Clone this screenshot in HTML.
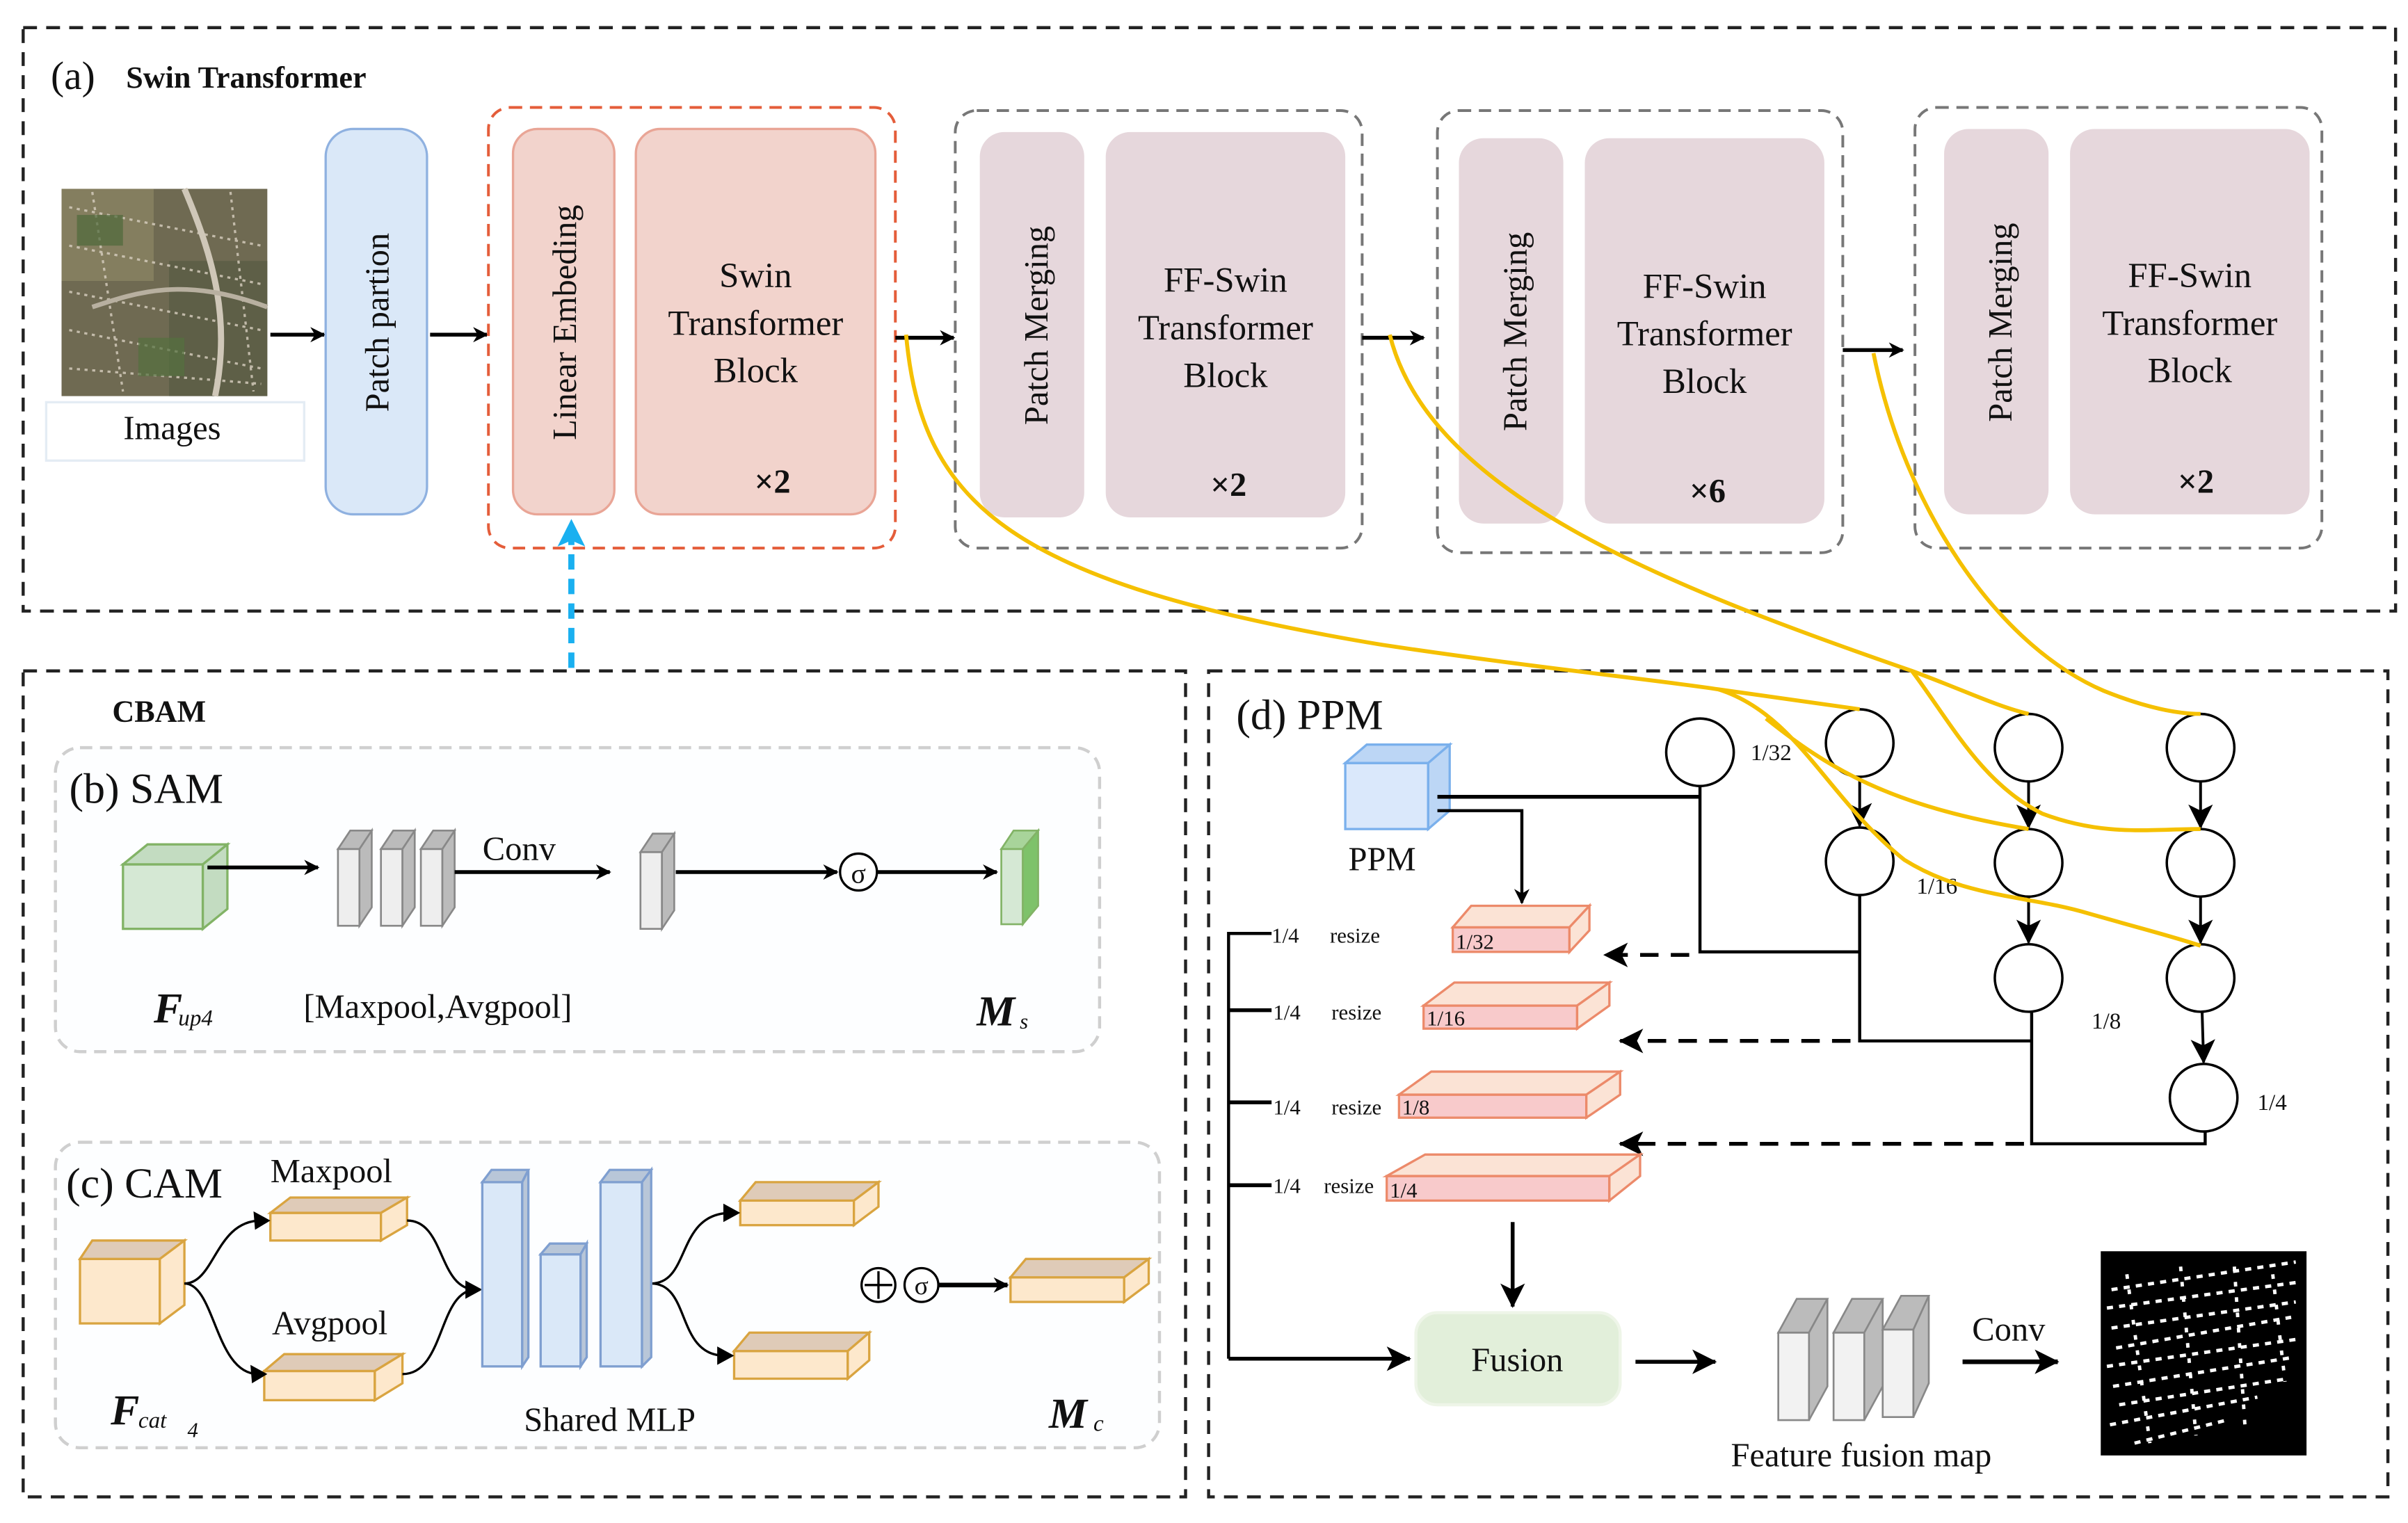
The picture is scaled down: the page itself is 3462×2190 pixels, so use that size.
<!DOCTYPE html>
<html><head><meta charset="utf-8"><style>
html,body{margin:0;padding:0;background:#fff;}
svg{display:block;}
text{font-family:"Liberation Serif",serif;fill:#111;}
</style></head><body>
<svg width="3462" height="2190" viewBox="0 0 1568 992" xmlns="http://www.w3.org/2000/svg">
<defs>
<marker id="ah" markerWidth="10" markerHeight="10" refX="9" refY="5" orient="auto" markerUnits="userSpaceOnUse"><path d="M0,0 L10,5 L0,10 L3,5 Z" fill="#000"/></marker>
<marker id="ahb" markerWidth="16" markerHeight="16" refX="15" refY="8" orient="auto" markerUnits="userSpaceOnUse"><path d="M0,0 L16,8 L0,16 L4,8 Z" fill="#000"/></marker>
<marker id="ahc" markerWidth="18" markerHeight="18" refX="16" refY="9" orient="auto" markerUnits="userSpaceOnUse"><path d="M0,0 L18,9 L0,18 L4,9 Z" fill="#1ab0f0"/></marker>
</defs>

<!-- (a) -->
<rect x="15" y="18" width="1545" height="380" fill="none" stroke="#222" stroke-width="2" stroke-dasharray="9,6"/>
<text x="33" y="58" font-size="26">(a)</text>
<text x="82" y="57" font-size="20" font-weight="bold">Swin Transformer</text>

<!-- image -->
<rect x="40" y="123" width="134" height="135" fill="#6f6a52"/>
<rect x="40" y="123" width="60" height="60" fill="#8a8363" opacity="0.8"/>
<rect x="110" y="170" width="64" height="88" fill="#5a5d45" opacity="0.8"/>
<g stroke="#d8d0c0" stroke-width="1.5" stroke-dasharray="2,3" fill="none" opacity="0.8">
<path d="M45,135 L170,160 M45,160 L170,185 M45,190 L170,215 M45,215 L170,240 M45,240 L170,250 M60,125 L80,255 M150,125 L165,255"/>
</g>
<path d="M120,123 C140,170 150,210 140,258" stroke="#cfc7b8" stroke-width="4" fill="none"/>
<path d="M60,200 C90,190 120,180 174,200" stroke="#b8b0a0" stroke-width="3" fill="none"/>
<rect x="50" y="140" width="30" height="20" fill="#4f6a3a" opacity="0.7"/>
<rect x="90" y="220" width="30" height="25" fill="#54703e" opacity="0.7"/>
<rect x="30" y="262" width="168" height="38" fill="#fff" stroke="#e4ecf4" stroke-width="1.5"/>
<text x="112" y="286" font-size="22" text-anchor="middle">Images</text>
<line x1="176" y1="218" x2="211" y2="218" stroke="#000" stroke-width="2.5" marker-end="url(#ah)"/>

<rect x="212" y="84" width="66" height="251" rx="18" fill="#dae8f8" stroke="#8fb1e0" stroke-width="1.5"/>
<text transform="translate(253,210) rotate(-90)" font-size="22" text-anchor="middle">Patch partion</text>
<line x1="280" y1="218" x2="317" y2="218" stroke="#000" stroke-width="2.5" marker-end="url(#ah)"/>

<rect x="318" y="70" width="265" height="287" rx="14" fill="none" stroke="#e45d3a" stroke-width="1.8" stroke-dasharray="8,5"/>
<rect x="334" y="84" width="66" height="251" rx="16" fill="#f2d3cc" stroke="#e9a596" stroke-width="1.5"/>
<text transform="translate(375,210) rotate(-90)" font-size="22" text-anchor="middle">Linear Embeding</text>
<rect x="414" y="84" width="156" height="251" rx="16" fill="#f2d3cc" stroke="#e9a596" stroke-width="1.5"/>
<text x="492" y="187" font-size="23" text-anchor="middle">Swin</text>
<text x="492" y="218" font-size="23" text-anchor="middle">Transformer</text>
<text x="492" y="249" font-size="23" text-anchor="middle">Block</text>
<text x="503" y="321" font-size="22" font-weight="bold" text-anchor="middle">×2</text>
<line x1="583" y1="220" x2="621" y2="220" stroke="#000" stroke-width="2.5" marker-end="url(#ah)"/>

<rect x="622" y="72" width="265" height="285" rx="14" fill="none" stroke="#777" stroke-width="1.8" stroke-dasharray="8,5"/>
<rect x="638" y="86" width="68" height="251" rx="16" fill="#e6d7dc"/>
<text transform="translate(682,212) rotate(-90)" font-size="22" text-anchor="middle">Patch Merging</text>
<rect x="720" y="86" width="156" height="251" rx="16" fill="#e6d7dc"/>
<text x="798" y="190" font-size="23" text-anchor="middle">FF-Swin</text>
<text x="798" y="221" font-size="23" text-anchor="middle">Transformer</text>
<text x="798" y="252" font-size="23" text-anchor="middle">Block</text>
<text x="800" y="323" font-size="22" font-weight="bold" text-anchor="middle">×2</text>
<line x1="887" y1="220" x2="927" y2="220" stroke="#000" stroke-width="2.5" marker-end="url(#ah)"/>

<rect x="936" y="72" width="264" height="288" rx="14" fill="none" stroke="#777" stroke-width="1.8" stroke-dasharray="8,5"/>
<rect x="950" y="90" width="68" height="251" rx="16" fill="#e6d7dc"/>
<text transform="translate(994,216) rotate(-90)" font-size="22" text-anchor="middle">Patch Merging</text>
<rect x="1032" y="90" width="156" height="251" rx="16" fill="#e6d7dc"/>
<text x="1110" y="194" font-size="23" text-anchor="middle">FF-Swin</text>
<text x="1110" y="225" font-size="23" text-anchor="middle">Transformer</text>
<text x="1110" y="256" font-size="23" text-anchor="middle">Block</text>
<text x="1112" y="327" font-size="22" font-weight="bold" text-anchor="middle">×6</text>
<line x1="1200" y1="228" x2="1239" y2="228" stroke="#000" stroke-width="2.5" marker-end="url(#ah)"/>

<rect x="1247" y="70" width="265" height="287" rx="14" fill="none" stroke="#777" stroke-width="1.8" stroke-dasharray="8,5"/>
<rect x="1266" y="84" width="68" height="251" rx="16" fill="#e6d7dc"/>
<text transform="translate(1310,210) rotate(-90)" font-size="22" text-anchor="middle">Patch Merging</text>
<rect x="1348" y="84" width="156" height="251" rx="16" fill="#e6d7dc"/>
<text x="1426" y="187" font-size="23" text-anchor="middle">FF-Swin</text>
<text x="1426" y="218" font-size="23" text-anchor="middle">Transformer</text>
<text x="1426" y="249" font-size="23" text-anchor="middle">Block</text>
<text x="1430" y="321" font-size="22" font-weight="bold" text-anchor="middle">×2</text>

<!-- cyan dashed arrow -->
<line x1="372" y1="435" x2="372" y2="340" stroke="#1ab0f0" stroke-width="4" stroke-dasharray="10,6" marker-end="url(#ahc)"/>

<!-- CBAM box -->
<rect x="15" y="437" width="757" height="538" fill="none" stroke="#222" stroke-width="2" stroke-dasharray="9,6"/>
<text x="73" y="470" font-size="20" font-weight="bold">CBAM</text>

<!-- SAM -->
<rect x="36" y="487" width="680" height="198" rx="16" fill="#fdfeff" stroke="#cfcfcf" stroke-width="2" stroke-dasharray="8,5"/>
<text x="45" y="523" font-size="28">(b) SAM</text>
<rect x="80" y="563" width="52" height="42" fill="#d5e8d4" stroke="#82b366" stroke-width="1.5"/>
<polygon points="80,563 96,550 148,550 132,563" fill="#c3dcc1" stroke="#82b366" stroke-width="1.5"/>
<polygon points="132,563 148,550 148,592 132,605" fill="#c3dcc1" stroke="#82b366" stroke-width="1.5"/>
<line x1="135" y1="565" x2="207" y2="565" stroke="#000" stroke-width="2.5" marker-end="url(#ah)"/>
<g fill="#eee" stroke="#888" stroke-width="1.2">
<rect x="220" y="553" width="14" height="50"/><polygon points="220,553 228,541 242,541 234,553" fill="#bbb"/><polygon points="234,553 242,541 242,591 234,603" fill="#bbb"/>
<rect x="248" y="553" width="14" height="50"/><polygon points="248,553 256,541 270,541 262,553" fill="#bbb"/><polygon points="262,553 270,541 270,591 262,603" fill="#bbb"/>
<rect x="274" y="553" width="14" height="50"/><polygon points="274,553 282,541 296,541 288,553" fill="#bbb"/><polygon points="288,553 296,541 296,591 288,603" fill="#bbb"/>
<rect x="417" y="555" width="14" height="50"/><polygon points="417,555 425,543 439,543 431,555" fill="#bbb"/><polygon points="431,555 439,543 439,593 431,605" fill="#bbb"/>
</g>
<text x="338" y="560" font-size="22" text-anchor="middle">Conv</text>
<line x1="296" y1="568" x2="397" y2="568" stroke="#000" stroke-width="2.5" marker-end="url(#ah)"/>
<line x1="440" y1="568" x2="545" y2="568" stroke="#000" stroke-width="2.5" marker-end="url(#ah)"/>
<circle cx="559" cy="568" r="12" fill="#fff" stroke="#000" stroke-width="1.5"/>
<text x="559" y="575" font-size="18" text-anchor="middle">σ</text>
<line x1="571" y1="568" x2="649" y2="568" stroke="#000" stroke-width="2.5" marker-end="url(#ah)"/>
<g stroke="#82b366" stroke-width="1.2">
<rect x="652" y="553" width="14" height="49" fill="#d5e8d4"/><polygon points="652,553 660,541 676,541 666,553" fill="#a8d49a"/><polygon points="666,553 676,541 676,590 666,602" fill="#7ec26a"/>
</g>
<text x="100" y="666" font-size="28" font-weight="bold" font-style="italic">F</text><text x="116" y="668" font-size="15" font-style="italic">up4</text>
<text x="285" y="663" font-size="22" text-anchor="middle">[Maxpool,Avgpool]</text>
<text x="636" y="668" font-size="28" font-weight="bold" font-style="italic">M</text><text x="664" y="670" font-size="14" font-style="italic">s</text>

<!-- CAM -->
<rect x="36" y="744" width="719" height="199" rx="16" fill="#fdfeff" stroke="#cfcfcf" stroke-width="2" stroke-dasharray="8,5"/>
<text x="43" y="780" font-size="28">(c) CAM</text>
<text x="176" y="770" font-size="22">Maxpool</text>
<text x="177" y="869" font-size="22">Avgpool</text>
<g stroke="#d9a440" stroke-width="1.5" fill="#fde8cc">
<rect x="52" y="820" width="52" height="42"/><polygon points="52,820 60,808 120,808 104,820" fill="#dfcbb8"/><polygon points="104,820 120,808 120,850 104,862"/>
<rect x="176" y="790" width="72" height="18"/><polygon points="176,790 189,780 265,780 248,790" fill="#dfcbb8"/><polygon points="248,790 265,780 265,798 248,808"/>
<rect x="172" y="893" width="72" height="19"/><polygon points="172,893 185,882 262,882 244,893" fill="#dfcbb8"/><polygon points="244,893 262,882 262,901 244,912"/>
<rect x="482" y="782" width="74" height="16"/><polygon points="482,782 492,770 572,770 556,782" fill="#dfcbb8"/><polygon points="556,782 572,770 572,786 556,798"/>
<rect x="478" y="880" width="74" height="18"/><polygon points="478,880 488,868 566,868 552,880" fill="#dfcbb8"/><polygon points="552,880 566,868 566,886 552,898"/>
<rect x="658" y="832" width="74" height="16"/><polygon points="658,832 668,820 748,820 732,832" fill="#dfcbb8"/><polygon points="732,832 748,820 748,836 732,848"/>
</g>
<g fill="none" stroke="#000" stroke-width="1.5">
<path d="M120,836 C140,836 140,795 170,795"/>
<path d="M120,836 C140,836 140,895 168,895"/>
<path d="M265,795 C290,795 285,840 310,840"/>
<path d="M262,895 C290,895 285,840 310,840"/>
<path d="M424,836 C450,836 440,790 476,790"/>
<path d="M424,836 C450,836 440,883 472,883"/>
</g>
<g fill="#000">
<polygon points="176,795 165,789 166,801"/><polygon points="174,895 163,889 164,901"/>
<polygon points="314,840 303,834 303,846"/><polygon points="482,790 471,784 471,796"/><polygon points="478,883 467,877 467,889"/>
</g>
<g stroke="#7f9fd0" stroke-width="1.5" fill="#dae8f8">
<rect x="314" y="770" width="26" height="120"/><polygon points="314,770 320,762 344,762 340,770" fill="#b8c6d8"/><polygon points="340,770 344,762 344,884 340,890" fill="#b8c6d8"/>
<rect x="352" y="817" width="26" height="73"/><polygon points="352,817 358,810 382,810 378,817" fill="#b8c6d8"/><polygon points="378,817 382,810 382,884 378,890" fill="#b8c6d8"/>
<rect x="391" y="770" width="27" height="120"/><polygon points="391,770 397,762 424,762 418,770" fill="#b8c6d8"/><polygon points="418,770 424,762 424,884 418,890" fill="#b8c6d8"/>
</g>
<circle cx="572" cy="837" r="11" fill="#fff" stroke="#000" stroke-width="1.5"/>
<line x1="563" y1="837" x2="581" y2="837" stroke="#000" stroke-width="1.5"/><line x1="572" y1="828" x2="572" y2="846" stroke="#000" stroke-width="1.5"/>
<circle cx="600" cy="837" r="11" fill="#fff" stroke="#000" stroke-width="1.5"/>
<text x="600" y="843" font-size="17" text-anchor="middle">σ</text>
<line x1="611" y1="837" x2="656" y2="837" stroke="#000" stroke-width="3" marker-end="url(#ah)"/>
<text x="72" y="928" font-size="28" font-weight="bold" font-style="italic">F</text><text x="90" y="930" font-size="15" font-style="italic">cat</text><text x="122" y="936" font-size="14" font-style="italic">4</text>
<text x="397" y="932" font-size="22" text-anchor="middle">Shared MLP</text>
<text x="683" y="930" font-size="28" font-weight="bold" font-style="italic">M</text><text x="712" y="932" font-size="15" font-style="italic">c</text>

<!-- (d) PPM -->
<rect x="787" y="437" width="768" height="538" fill="none" stroke="#222" stroke-width="2" stroke-dasharray="9,6"/>
<text x="805" y="475" font-size="28">(d) PPM</text>
<g stroke="#7ab0ec" stroke-width="1.5">
<rect x="876" y="497" width="54" height="43" fill="#dae8fb"/>
<polygon points="876,497 890,485 944,485 930,497" fill="#bcd6f5"/>
<polygon points="930,497 944,485 944,528 930,540" fill="#bcd6f5"/>
</g>
<text x="900" y="567" font-size="22" text-anchor="middle">PPM</text>
<line x1="936" y1="519" x2="1107" y2="519" stroke="#000" stroke-width="2.5"/>
<polyline points="936,528 991,528 991,588" fill="none" stroke="#000" stroke-width="2" marker-end="url(#ah)"/>

<g fill="#fff" stroke="#000" stroke-width="1.6">
<circle cx="1107" cy="490" r="22"/>
<circle cx="1211" cy="484" r="22"/><circle cx="1211" cy="561" r="22"/>
<circle cx="1321" cy="487" r="22"/><circle cx="1321" cy="562" r="22"/><circle cx="1321" cy="637" r="22"/>
<circle cx="1433" cy="487" r="22"/><circle cx="1433" cy="562" r="22"/><circle cx="1433" cy="637" r="22"/><circle cx="1435" cy="715" r="22"/>
</g>
<g stroke="#000" stroke-width="1.8" marker-end="url(#ahb)">
<line x1="1211" y1="506" x2="1211" y2="538"/>
<line x1="1321" y1="509" x2="1321" y2="539"/><line x1="1321" y1="584" x2="1321" y2="614"/>
<line x1="1433" y1="509" x2="1433" y2="539"/><line x1="1433" y1="584" x2="1433" y2="614"/><line x1="1434" y1="659" x2="1435" y2="692"/>
</g>
<text x="1140" y="495" font-size="15">1/32</text>
<text x="1248" y="582" font-size="15">1/16</text>
<text x="1362" y="670" font-size="15">1/8</text>
<text x="1470" y="723" font-size="15">1/4</text>
<g fill="none" stroke="#000" stroke-width="2">
<polyline points="1107,512 1107,620 1211,620"/>
<polyline points="1211,583 1211,678 1323,678"/>
<polyline points="1323,659 1323,745 1436,745 1436,737"/>
</g>
<g stroke="#000" stroke-width="2.5" stroke-dasharray="12,8" marker-end="url(#ahb)">
<line x1="1100" y1="622" x2="1045" y2="622"/>
<line x1="1205" y1="678" x2="1055" y2="678"/>
<line x1="1318" y1="745" x2="1055" y2="745"/>
</g>

<g stroke="#ec8a6a" stroke-width="1.5">
<rect x="946" y="604" width="76" height="16" fill="#f8cacb"/><polygon points="946,604 958,590 1035,590 1022,604" fill="#fbe3d5"/><polygon points="1022,604 1035,590 1035,606 1022,620" fill="#fbe3d5"/>
<rect x="927" y="655" width="100" height="15" fill="#f8cacb"/><polygon points="927,655 947,640 1048,640 1027,655" fill="#fbe3d5"/><polygon points="1027,655 1048,640 1048,655 1027,670" fill="#fbe3d5"/>
<rect x="911" y="713" width="122" height="15" fill="#f8cacb"/><polygon points="911,713 932,698 1055,698 1033,713" fill="#fbe3d5"/><polygon points="1033,713 1055,698 1055,713 1033,728" fill="#fbe3d5"/>
<rect x="903" y="766" width="145" height="16" fill="#f8cacb"/><polygon points="903,766 928,752 1068,752 1048,766" fill="#fbe3d5"/><polygon points="1048,766 1068,752 1068,766 1048,782" fill="#fbe3d5"/>
</g>
<text x="948" y="618" font-size="14">1/32</text>
<text x="929" y="668" font-size="14">1/16</text>
<text x="913" y="726" font-size="14">1/8</text>
<text x="905" y="780" font-size="14">1/4</text>

<polyline points="828,608 800,608 800,885" fill="none" stroke="#000" stroke-width="2"/>
<g stroke="#000" stroke-width="2.5"><line x1="800" y1="658" x2="828" y2="658"/><line x1="800" y1="718" x2="828" y2="718"/><line x1="800" y1="772" x2="828" y2="772"/></g>
<g font-size="14"><text x="828" y="614">1/4</text><text x="866" y="614">resize</text>
<text x="829" y="664">1/4</text><text x="867" y="664">resize</text>
<text x="829" y="726">1/4</text><text x="867" y="726">resize</text>
<text x="829" y="777">1/4</text><text x="862" y="777">resize</text></g>
<line x1="800" y1="885" x2="918" y2="885" stroke="#000" stroke-width="2.5" marker-end="url(#ahb)"/>
<line x1="985" y1="796" x2="985" y2="851" stroke="#000" stroke-width="2.5" marker-end="url(#ahb)"/>
<rect x="922" y="855" width="133" height="60" rx="14" fill="#e2efda" stroke="#eef5e8" stroke-width="2"/>
<text x="988" y="893" font-size="22" text-anchor="middle">Fusion</text>
<line x1="1065" y1="887" x2="1117" y2="887" stroke="#000" stroke-width="2.5" marker-end="url(#ahb)"/>
<g fill="#f2f2f2" stroke="#888" stroke-width="1.2">
<rect x="1158" y="868" width="20" height="57"/><polygon points="1158,868 1170,846 1190,846 1178,868" fill="#bbb"/><polygon points="1178,868 1190,846 1190,903 1178,925" fill="#bbb"/>
<rect x="1194" y="868" width="20" height="57"/><polygon points="1194,868 1206,846 1226,846 1214,868" fill="#bbb"/><polygon points="1214,868 1226,846 1226,903 1214,925" fill="#bbb"/>
<rect x="1226" y="866" width="20" height="57"/><polygon points="1226,866 1238,844 1256,844 1246,866" fill="#bbb"/><polygon points="1246,866 1256,844 1256,901 1246,923" fill="#bbb"/>
</g>
<text x="1308" y="873" font-size="22" text-anchor="middle">Conv</text>
<line x1="1278" y1="887" x2="1340" y2="887" stroke="#000" stroke-width="3" marker-end="url(#ahb)"/>
<rect x="1368" y="815" width="134" height="133" fill="#000"/>
<g stroke="#fff" stroke-width="2.2" stroke-dasharray="4,4" fill="none">
<path d="M1375,840 L1495,822 M1372,852 L1498,835 M1375,865 L1495,848 M1378,878 L1492,858 M1372,890 L1498,872 M1376,903 L1494,884 M1380,915 L1490,898 M1374,928 L1470,910 M1390,940 L1450,925"/>
<path d="M1385,830 L1400,940 M1420,825 L1430,935 M1455,825 L1462,930 M1480,830 L1488,900" stroke-dasharray="3,7"/>
</g>
<text x="1212" y="955" font-size="22" text-anchor="middle">Feature fusion map</text>

<!-- yellow curves -->
<g fill="none" stroke="#f5c000" stroke-width="2.6">
<path d="M590,218 C600,330 660,380 900,420 C1000,435 1080,443 1119,449 L1211,462"/>
<path d="M1119,449 C1170,465 1190,520 1240,560 C1280,585 1320,583 1360,595 C1395,605 1415,610 1433,616"/>
<path d="M1150,468 C1190,500 1230,525 1321,540"/>
<path d="M905,218 C930,320 1080,380 1245,437 C1280,450 1300,460 1321,465"/>
<path d="M1245,437 C1270,470 1290,510 1330,530 C1370,545 1400,540 1433,540"/>
<path d="M1220,230 C1240,330 1300,420 1370,450 C1400,462 1420,465 1433,465"/>
</g>
</svg>
</body></html>
